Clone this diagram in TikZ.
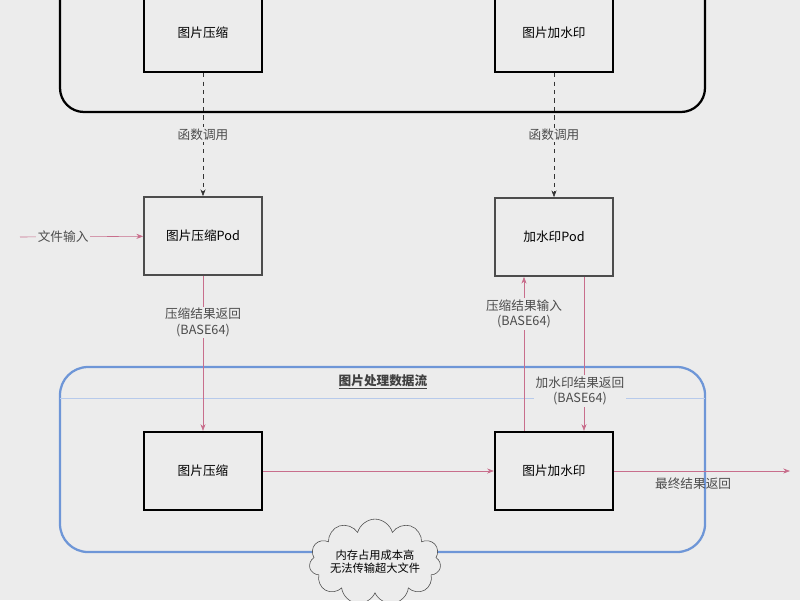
\documentclass[tikz,border=0pt]{standalone}
\usepackage{fontspec}
\setmainfont{Noto Sans CJK SC}
\usepackage{tikz}
\usetikzlibrary{shapes.symbols, arrows.meta, positioning, calc}
\definecolor{bgc}{RGB}{236,236,236}
\definecolor{flow}{RGB}{200,110,140}
\definecolor{frame}{RGB}{110,150,215}

\begin{document}
\begin{tikzpicture}[x=0.025cm, y=-0.025cm,
    fn/.style={draw, line width=1.6pt, minimum width=2.95cm, minimum height=1.95cm, align=center, font=\small},
    pod/.style={draw=black!70, line width=1.2pt, minimum width=2.95cm, minimum height=1.95cm, align=center, font=\small},
    call/.style={-{Stealth}, dashed, black!80},
    data/.style={-{Stealth}, flow},
    lbl/.style={font=\small, text=black!70, fill=bgc, align=center, inner sep=1pt}
]
    \useasboundingbox[fill=bgc] (0,0) rectangle (800,600);
    % containers
    \draw[line width=1.6pt, rounded corners=0.6cm] (60,-40) rectangle (705,112);
    \draw[frame, line width=1.6pt, rounded corners=0.7cm] (60,367) rectangle (705,552);
    \draw[frame!50] (60,398) -- (705,398);
    \node[font=\small\bfseries, text=black!75] (flowtitle) at (383,382) {\underline{图片处理数据流}};

    % function boxes
    \node[fn] at (203,33) (fncompress) {图片压缩};
    \node[fn] at (554,33) (fnwater) {图片加水印};
    % pods
    \node[pod] at (203,236) (podcompress) {图片压缩Pod};
    \node[pod] at (554,237) (podwater) {加水印Pod};
    % data flow boxes
    \node[fn] at (203,471) (compress) {图片压缩};
    \node[fn] at (554,471) (water) {图片加水印};

    \coordinate (input) at (20,237);
    \coordinate (output) at (790,471);
    \node[font=\footnotesize, cloud, cloud puffs=11, draw=black!70, fill=bgc, aspect=2, inner sep=-1pt, align=center] (note) at (375,562) {内存占用成本高\\无法传输超大文件};

    \draw[call] (fncompress) -- node[lbl] {函数调用} (podcompress);
    \draw[call] (fnwater) -- node[lbl] {函数调用} (podwater);
    \draw[data] (input) -- node[lbl, pos=0.35] {文件输入} (podcompress);
    \draw[data] (podcompress) -- node[lbl, pos=0.3] {压缩结果返回\\(BASE64)} (compress);
    \draw[data] (water.north -| 524,0) -- node[lbl, pos=0.76] {压缩结果输入\\(BASE64)} (podwater.south -| 524,0);
    \draw[data] (podwater.south -| 584,0) -- node[lbl, pos=0.74, xshift=-0.1cm] {加水印结果返回\\(BASE64)} (water.north -| 584,0);
    \draw[data] (compress) -- (water);
    \draw[data] (water) -- (output);
    \node[font=\small, text=black!70, below=0.05cm of water.east, anchor=north west, xshift=0.9cm] (outlbl) {最终结果返回};
\end{tikzpicture}
\end{document}
